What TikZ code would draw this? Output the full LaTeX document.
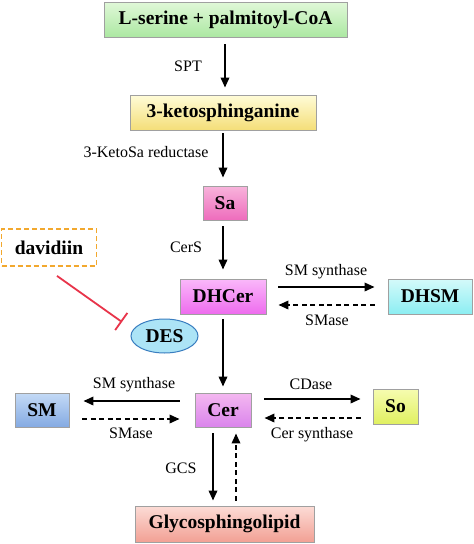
\documentclass[tikz,border=0pt]{standalone}
\usepackage{fontspec}
\setmainfont{Liberation Serif}
\usetikzlibrary{arrows.meta,shapes.geometric,calc}
\definecolor{bordergray}{HTML}{A0A0A0}
\definecolor{gTop}{HTML}{E0F8D8}\definecolor{gBot}{HTML}{ACE8A2}
\definecolor{yTop}{HTML}{FFFCD8}\definecolor{yBot}{HTML}{F4DE78}
\definecolor{pTop}{HTML}{F8B4DC}\definecolor{pBot}{HTML}{EE6CBC}
\definecolor{mTop}{HTML}{FAB8FA}\definecolor{mBot}{HTML}{EE6CEE}
\definecolor{cTop}{HTML}{D4FAFA}\definecolor{cBot}{HTML}{8CEEF2}
\definecolor{vTop}{HTML}{F4B8F0}\definecolor{vBot}{HTML}{DA84EC}
\definecolor{bTop}{HTML}{C4DAF6}\definecolor{bBot}{HTML}{84AAE2}
\definecolor{sTop}{HTML}{F6FCB0}\definecolor{sBot}{HTML}{E0F060}
\definecolor{rTop}{HTML}{FCDCD6}\definecolor{rBot}{HTML}{F2A094}
\definecolor{desFill}{HTML}{ACE4F6}\definecolor{desLine}{HTML}{3A7EC0}
\definecolor{davOrange}{HTML}{F2A82E}
\definecolor{inhRed}{HTML}{E8344A}
\tikzset{
  mol/.style={draw=bordergray, line width=0.9pt, rectangle, inner sep=0pt,
    font=\fontsize{19.5}{20}\selectfont\bfseries},
  lbl/.style={font=\fontsize{16}{17}\selectfont, inner sep=0pt},
  arr/.style={line width=1.9pt, -{Triangle[length=10pt,width=8.5pt]}},
  darr/.style={arr, dash pattern=on 5pt off 3.5pt},
}
\begin{document}
\begin{tikzpicture}[x=1pt,y=-1pt]
\useasboundingbox (0,0) rectangle (474,544);
\fill[white] (0,0) rectangle (474,544);
% molecule boxes
\node[mol, top color=gTop, bottom color=gBot, minimum width=243pt, minimum height=35pt] (ser) at (225.5,19.5) {L-serine + palmitoyl-CoA};
\node[mol, top color=yTop, bottom color=yBot, minimum width=186pt, minimum height=35pt] (keto) at (223,112.5) {3-ketosphinganine};
\node[mol, top color=pTop, bottom color=pBot, minimum width=44pt, minimum height=34pt] (sa) at (225,203) {Sa};
\node[mol, top color=mTop, bottom color=mBot, minimum width=86pt, minimum height=35pt] (dhcer) at (223,296.5) {DHCer};
\node[mol, top color=cTop, bottom color=cBot, minimum width=84pt, minimum height=35pt] (dhsm) at (430,296.5) {DHSM};
\node[mol, top color=vTop, bottom color=vBot, minimum width=56pt, minimum height=34pt] (cer) at (223,410) {Cer};
\node[mol, top color=bTop, bottom color=bBot, minimum width=54pt, minimum height=34pt] (sm) at (42,410) {SM};
\node[mol, top color=sTop, bottom color=sBot, minimum width=45pt, minimum height=35pt] (so) at (395.5,406.5) {So};
\node[mol, top color=rTop, bottom color=rBot, minimum width=179pt, minimum height=36pt] (gly) at (224.5,524) {Glycosphingolipid};
\node[draw=davOrange, line width=1.8pt, dash pattern=on 5pt off 3pt, rectangle, inner sep=0pt,
  minimum width=95pt, minimum height=37pt, font=\fontsize{19.5}{20}\selectfont\bfseries] (dav) at (49,247.5) {davidiin};
\node[draw=desLine, line width=1pt, fill=desFill, ellipse, inner sep=0pt,
  minimum width=67pt, minimum height=34pt, font=\fontsize{19.5}{20}\selectfont\bfseries] (des) at (164.5,336) {DES};
% main chain
\draw[arr, shorten <=7pt, shorten >=7pt] ([xshift=-0.5pt]ser.south) -- ([xshift=2pt]keto.north);
\draw[arr, shorten <=3pt, shorten >=8pt] (keto.south) -- ([xshift=-2pt]sa.north);
\draw[arr, shorten <=6pt, shorten >=9pt] ([xshift=-2pt]sa.south) -- (dhcer.north);
\draw[arr, shorten <=5pt, shorten >=6pt] (dhcer.south) -- (cer.north);
% DHCer <-> DHSM
\draw[arr, shorten <=12pt, shorten >=13pt] ([yshift=9.5pt]dhcer.east) -- ([yshift=9.5pt]dhsm.west);
\draw[darr, shorten <=13pt, shorten >=12pt] ([yshift=-8.5pt]dhsm.west) -- ([yshift=-8.5pt]dhcer.east);
% Cer <-> SM
\draw[arr, shorten <=15pt, shorten >=14pt] ([yshift=9pt]cer.west) -- ([yshift=9pt]sm.east);
\draw[darr, shorten <=13pt, shorten >=15pt] ([yshift=-9pt]sm.east) -- ([yshift=-9pt]cer.west);
% Cer <-> So
\draw[arr, shorten <=13pt, shorten >=12pt] ([yshift=11pt]cer.east) -- ([yshift=7.5pt]so.west);
\draw[darr, shorten <=12pt, shorten >=13pt] ([yshift=-11.5pt]so.west) -- ([yshift=-8pt]cer.east);
% Cer <-> Glycosphingolipid
\draw[arr, shorten <=6pt, shorten >=5pt] ([xshift=-10pt]cer.south) -- ([xshift=-11.5pt]gly.north);
\draw[darr, shorten <=5pt, shorten >=6pt] ([xshift=11.5pt]gly.north) -- ([xshift=13pt]cer.south);
% inhibition
\coordinate (inhs) at ($(dav.south)+(8pt,-9pt)$);
\coordinate (inhe) at (122,322);
\draw[inhRed, line width=1.8pt, -{Bar[width=21pt,line width=1.8pt]}] (inhs) -- (inhe);
% labels
\node[lbl] (lspt) at (188,66) {SPT};
\node[lbl] (lkr) at (146,152) {3-KetoSa reductase};
\node[lbl] (lcers) at (186,247) {CerS};
\node[lbl] (lsms1) at (326,272) {SM synthase};
\node[lbl] (lsma1) at (327,320) {SMase};
\node[lbl] (lsms2) at (134,385) {SM synthase};
\node[lbl] (lsma2) at (131,433) {SMase};
\node[lbl] (lcd) at (311,384) {CDase};
\node[lbl] (lcs) at (312,435) {Cer synthase};
\node[lbl] (lgcs) at (181,468) {GCS};
\end{tikzpicture}
\end{document}
